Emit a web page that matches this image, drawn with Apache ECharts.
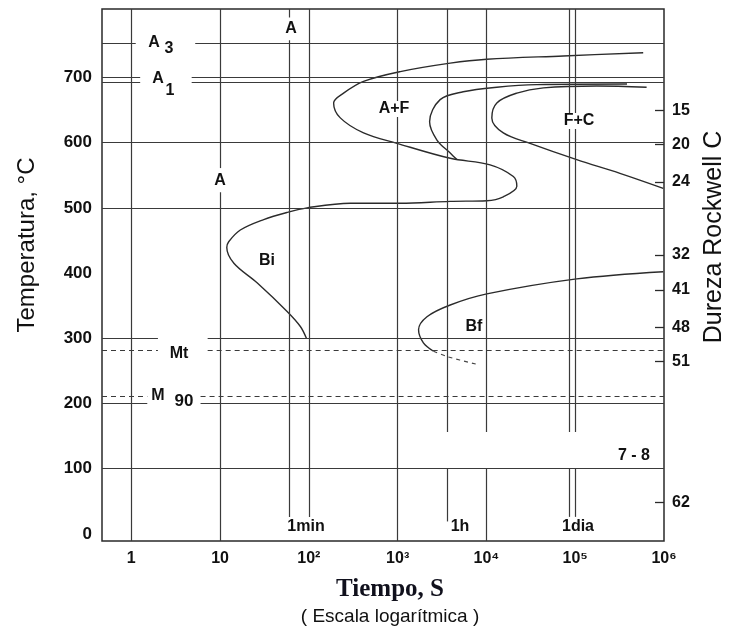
<!DOCTYPE html>
<html>
<head>
<meta charset="utf-8">
<script src="https://cdn.jsdelivr.net/npm/echarts@6/dist/echarts.min.js"></script>
<style>
  html, body { margin: 0; padding: 0; background: #fff; }
  #ttt { width: 737px; height: 641px; }
</style>
</head>
<body>
<div id="ttt"></div>
<script>
// tiempos en segundos, temperaturas en °C
const curva1Tiempo = [583000, 73500, 10100, 3910, 1070, 413, 246, 190, 226, 413, 982, 3910, 11000, 20100, 22000, 15500, 10100, 3910, 1070, 293, 95.5, 56.9, 31.0, 16.9, 12.5, 11.9, 14.3, 26.1, 56.9, 80.2, 93.8];
const curva1Temp = [738, 733, 728, 722, 709, 694, 676, 661, 638, 615, 599, 576, 566, 548, 533, 517, 511, 510, 507, 507, 500, 493, 482, 466, 448, 439, 415, 385, 341, 318, 300];

const curva2Tiempo = [383000, 36900, 13100, 5470, 3010, 2290, 2770, 3910, 4650];
const curva2Temp = [690, 689, 685, 678, 666, 632, 604, 584, 574];

const curva3Tiempo = [637000, 175000, 43800, 22000, 13100, 11500, 15500, 31000, 104000, 319000, 980000];
const curva3Temp = [685, 687, 684, 676, 661, 638, 615, 599, 574, 553, 530];

const curvaBfTiempo = [980000, 104000, 10100, 3910, 2140, 1720, 1950, 2540];
const curvaBfTemp = [402, 391, 368, 351, 333, 313, 293, 280];
const curvaBfTrazosTiempo = [2540, 3580, 7800];
const curvaBfTrazosTemp = [280, 272, 260];

const tempTicks = [0, 100, 200, 300, 400, 500, 600, 700];
const tiempoTicks = [1, 10, 100, 1000, 10000, 100000, 1000000];
const tiempoEtiquetas = ['1', '10', '10²', '10³', '10⁴', '10⁵', '10⁶'];
const durezaEtiquetas = ['15', '20', '24', '32', '41', '48', '51', '62'];
const durezaTemp = [649, 597, 540, 428, 374, 317, 264, 48];

// lineas de referencia
const lineasVerticales = [1, 10, 60, 100, 1000, 3600, 10000, 86400, 100000];
const lineasHorizontales = [752, 700, 692, 600, 500, 300, 282, 211, 200, 100];
const lineasPunteadas = [282, 211];

const lg = t => Math.log10(t);
const pares = (ts, ys) => ts.map((t, i) => [lg(t), ys[i]]);

const X0 = -0.33, X1 = 6, Y0 = -11, Y1 = 805;

// huecos donde van los rotulos
const huecosV = {
  10: [[524, 561]],
  60: [[Y0, 26], [757, 792]],
  100: [[Y0, 26]],
  3600: [[Y0, 19], [100, 156]],
  10000: [[100, 156]],
  86400: [[Y0, 26], [100, 156]],
  100000: [[Y0, 26], [100, 156]]
};
const huecosH = {
  752: [0.05, 0.72], 700: [0.1, 0.68], 692: [0.1, 0.68],
  300: [0.3, 0.86], 282: [0.3, 0.86], 211: [0.18, 0.78], 200: [0.18, 0.78]
};

function tramos(lo, hi, huecos) {
  let res = [], a = lo;
  huecos.slice().sort((p, q) => p[0] - q[0]).forEach(h => {
    if (h[0] > a) res.push([a, h[0]]);
    a = Math.max(a, h[1]);
  });
  if (a < hi) res.push([a, hi]);
  return res;
}

const marcas = [];
lineasVerticales.forEach(t => {
  tramos(Y0, Y1, huecosV[t] || []).forEach(s => {
    marcas.push([{ coord: [lg(t), s[0]] }, { coord: [lg(t), s[1]] }]);
  });
});
lineasHorizontales.forEach(T => {
  const h = huecosH[T] ? [huecosH[T]] : [];
  const punteada = lineasPunteadas.includes(T);
  tramos(X0, X1, h).forEach(s => {
    marcas.push([
      { coord: [s[0], T], lineStyle: { type: punteada ? [5, 4] : 'solid' } },
      { coord: [s[1], T] }
    ]);
  });
});

const curva = { color: '#2b2b2b', width: 1.4 };
const fuente = '"Liberation Sans", Arial, sans-serif';

function rotulo(texto, x, y, size, peso) {
  return {
    type: 'text', x: x, y: y, silent: true, z: 50,
    style: {
      text: texto, fill: '#111', font: (peso || 'bold') + ' ' + (size || 16) + 'px ' + fuente,
      align: 'center', verticalAlign: 'middle', backgroundColor: '#fff', padding: [0, 1]
    }
  };
}

function titulo(texto, x, y, size) {
  return {
    type: 'text', x: x, y: y, rotation: Math.PI / 2, silent: true,
    style: { text: texto, fill: '#111', font: size + 'px ' + fuente, align: 'center', verticalAlign: 'middle' }
  };
}

const chart = echarts.init(document.getElementById('ttt'));
chart.setOption({
  animation: false,
  grid: { left: 102, right: 73, top: 9, bottom: 100, show: true, borderColor: '#2a2a2a', borderWidth: 1.5 },
  xAxis: {
    type: 'value', min: X0, max: X1,
    axisLine: { show: false }, axisTick: { show: false }, splitLine: { show: false },
    axisLabel: {
      customValues: tiempoTicks.map(lg), margin: 10,
      color: '#111', fontSize: 16, fontWeight: 'bold', fontFamily: fuente,
      formatter: v => tiempoEtiquetas[tiempoTicks.map(lg).findIndex(x => Math.abs(x - v) < 1e-6)] || ''
    }
  },
  yAxis: [{
    type: 'value', min: Y0, max: Y1, position: 'left',
    axisLine: { show: false }, axisTick: { show: false }, splitLine: { show: false },
    axisLabel: { customValues: tempTicks, margin: 10, color: '#111', fontSize: 17, fontWeight: 'bold', fontFamily: fuente }
  }, {
    type: 'value', min: Y0, max: Y1, position: 'right',
    axisLine: { show: false }, splitLine: { show: false },
    axisTick: { show: true, inside: true, length: 9, customValues: durezaTemp, lineStyle: { color: '#2a2a2a', width: 1.3 } },
    axisLabel: {
      customValues: durezaTemp, margin: 8, color: '#111', fontSize: 16, fontWeight: 'bold', fontFamily: fuente,
      formatter: v => durezaEtiquetas[durezaTemp.indexOf(v)] || ''
    }
  }],
  series: [
    {
      type: 'line', data: [], silent: true,
      markLine: { silent: true, symbol: 'none', label: { show: false }, lineStyle: { color: '#3a3a3a', width: 1.2, type: 'solid' }, data: marcas }
    },
    { type: 'line', data: pares(curva1Tiempo, curva1Temp), smooth: 0.35, showSymbol: false, lineStyle: curva },
    { type: 'line', data: pares(curva2Tiempo, curva2Temp), smooth: 0.35, showSymbol: false, lineStyle: curva },
    { type: 'line', data: pares(curva3Tiempo, curva3Temp), smooth: 0.35, showSymbol: false, lineStyle: curva },
    { type: 'line', data: pares(curvaBfTiempo, curvaBfTemp), smooth: 0.35, showSymbol: false, lineStyle: curva },
    { type: 'line', data: pares(curvaBfTrazosTiempo, curvaBfTrazosTemp), smooth: 0.3, showSymbol: false, lineStyle: { color: '#444', width: 1.1, type: [4, 4] } }
  ],
  graphic: [
    rotulo('A', 154, 43), rotulo('3', 169, 49),
    rotulo('A', 158, 79), rotulo('1', 170, 91),
    rotulo('A', 291, 29),
    rotulo('A', 220, 181),
    rotulo('A+F', 394, 109),
    rotulo('F+C', 579, 121),
    rotulo('Bi', 267, 261),
    rotulo('Bf', 474, 327),
    rotulo('Mt', 179, 354),
    rotulo('M', 158, 396), rotulo('90', 184, 401, 17),
    rotulo('1min', 306, 527, 16),
    rotulo('1h', 460, 527, 16),
    rotulo('1dia', 578, 527, 16),
    rotulo('7 - 8', 634, 456),
    titulo('Temperatura, °C', 27, 245, 24),
    titulo('Dureza Rockwell C', 714, 237, 25),
    {
      type: 'text', x: 390, y: 590, silent: true,
      style: { text: 'Tiempo, S', fill: '#10101c', font: 'bold 25px "Liberation Serif", "Times New Roman", serif', align: 'center', verticalAlign: 'middle' }
    },
    {
      type: 'text', x: 390, y: 617, silent: true,
      style: { text: '( Escala logarítmica )', fill: '#111', font: '19px ' + fuente, align: 'center', verticalAlign: 'middle' }
    }
  ]
});
</script>
</body>
</html>
